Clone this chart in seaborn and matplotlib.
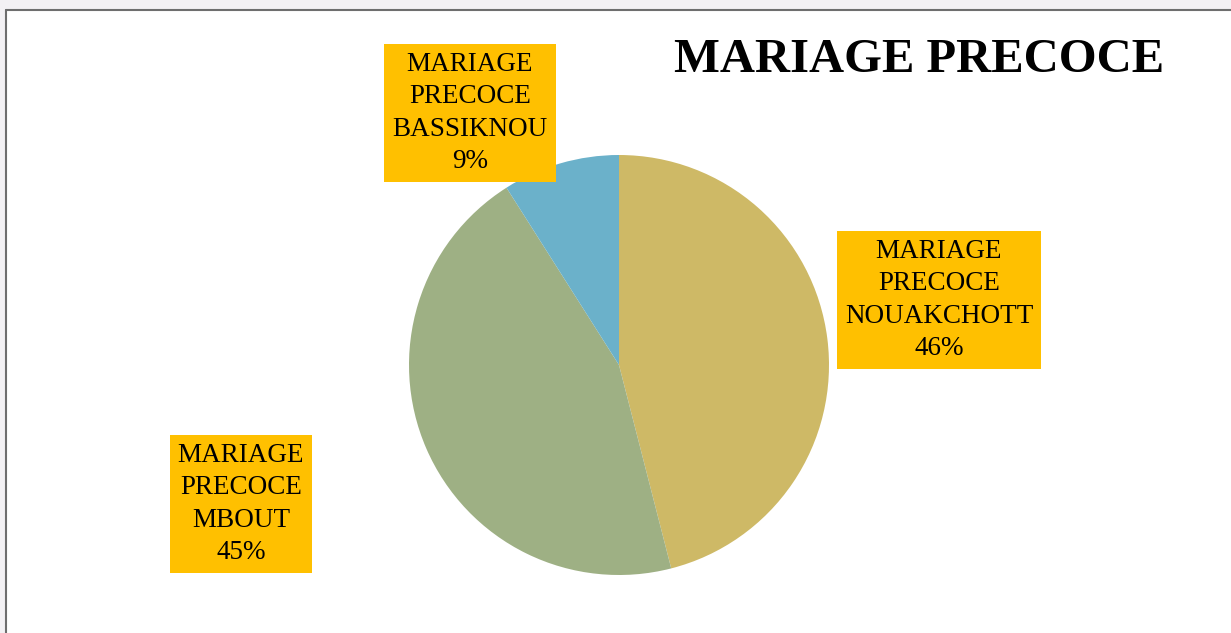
import matplotlib
matplotlib.use("Agg")
import matplotlib.pyplot as plt
import seaborn as sns
from matplotlib.patches import Rectangle
from matplotlib.lines import Line2D

# data
regions = ["NOUAKCHOTT", "MBOUT", "BASSIKNOU"]
shares = [46, 45, 9]
colors = ["#CEB966", "#9EB084", "#6BB1CA"]
title = "MARIAGE PRECOCE"

W, H = 1231, 633

sns.set_theme(style="white")
plt.rcParams["font.family"] = ["Liberation Serif", "DejaVu Serif"]

fig = plt.figure(figsize=(W / 100, H / 100), dpi=100, facecolor="white")

# page background strip + frame of the chart area
fig.add_artist(Rectangle((0, 1 - 10 / H), 1, 10 / H, transform=fig.transFigure,
                         facecolor="#F3F1F4", edgecolor="none", zorder=0))
fig.add_artist(Rectangle((0, 0), 5 / W, 1, transform=fig.transFigure,
                         facecolor="#F3F1F4", edgecolor="none", zorder=0))
fig.add_artist(Line2D([6 / W, 1], [1 - 10 / H, 1 - 10 / H], transform=fig.transFigure,
                      color="#6E6E6E", lw=1.5))
fig.add_artist(Line2D([6 / W, 6 / W], [0, 1 - 10 / H], transform=fig.transFigure,
                      color="#6E6E6E", lw=1.5))

ax = fig.add_axes([0, 0, 1, 1])

wedges, _ = ax.pie(shares, colors=colors, startangle=90, counterclock=False,
                   center=(619, H - 365), radius=210,
                   wedgeprops=dict(linewidth=0))

# pie() resets the limits, so set the pixel frame afterwards
ax.set_xlim(0, W)
ax.set_ylim(0, H)
ax.set_aspect("equal")
ax.axis("off")

# label boxes (x, y in pixels from top-left)
label_pos = {"NOUAKCHOTT": (939, 300), "MBOUT": (241, 504), "BASSIKNOU": (470, 113)}
for name, val in zip(regions, shares):
    x, y = label_pos[name]
    ax.text(x, H - y, f"MARIAGE\nPRECOCE\n{name}\n{val}%", ha="center", va="center",
            fontsize=19.5, linespacing=1.37, color="black",
            bbox=dict(boxstyle="square,pad=0.3", facecolor="#FFC000", edgecolor="none"))

ax.text(919, H - 60, title, ha="center", va="center", fontsize=35,
        fontweight="bold", color="black")

fig.savefig("out.png", dpi=100, facecolor="white")
